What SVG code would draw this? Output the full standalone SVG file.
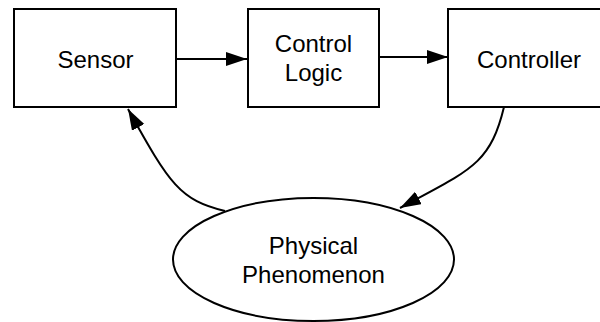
<svg xmlns="http://www.w3.org/2000/svg" width="600" height="322" viewBox="0 0 600 322">
  <style>
    .box { fill: #ffffff; stroke: #000000; stroke-width: 2; }
    .lbl { font-family: "Liberation Sans", Arial, Helvetica, sans-serif; font-size: 24px; fill: #000000; text-anchor: middle; }
    .edge { fill: none; stroke: #000000; stroke-width: 2; marker-end: url(#arrow); }
  </style>
  <defs>
    <marker id="arrow" markerUnits="userSpaceOnUse" markerWidth="22" markerHeight="16" refX="21" refY="7" orient="auto">
      <path d="M0,0 L21,7 L0,14 z" fill="#000000"/>
    </marker>
  </defs>
  <rect width="600" height="322" fill="#ffffff"/>
  <g id="sensor">
    <rect class="box" x="14" y="9" width="162" height="98"/>
    <text class="lbl" x="95.5" y="67.5">Sensor</text>
  </g>
  <g id="control-logic">
    <rect class="box" x="248" y="9" width="131" height="98"/>
    <text class="lbl" x="313.5" y="52">Control</text>
    <text class="lbl" x="313.5" y="81">Logic</text>
  </g>
  <g id="controller">
    <rect class="box" x="448" y="9" width="162" height="98"/>
    <text class="lbl" x="529" y="67.5">Controller</text>
  </g>
  <g id="physical-phenomenon">
    <ellipse class="box" cx="313.5" cy="259.5" rx="140.5" ry="61.5"/>
    <text class="lbl" x="313.5" y="254">Physical</text>
    <text class="lbl" x="313.5" y="283">Phenomenon</text>
  </g>
  <g id="connectors">
    <path class="edge" d="M176,59 L247,59"/>
    <path class="edge" d="M379,57 L448,57"/>
    <path class="edge" d="M504,107 C490,165 470,170 400,208"/>
    <path class="edge" d="M225,211 C180,200 170,185 128,109"/>
  </g>
</svg>
